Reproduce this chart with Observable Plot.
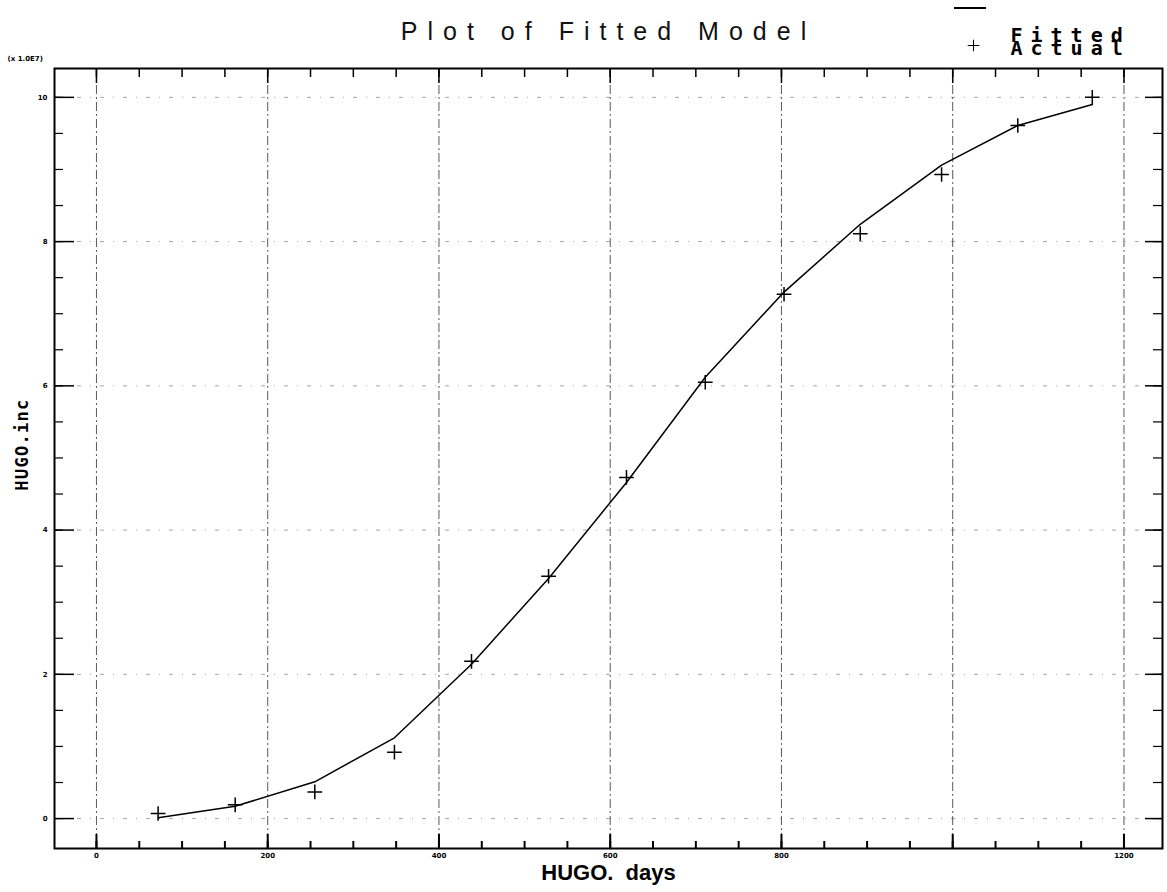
<!DOCTYPE html>
<html>
<head>
<meta charset="utf-8">
<script src="https://cdn.jsdelivr.net/npm/d3@7"></script>
<script src="https://cdn.jsdelivr.net/npm/@observablehq/plot@0.6"></script>
<style>
  html, body { margin: 0; padding: 0; background: #fff; }
  #chart svg { display: block; }
</style>
</head>
<body>
<div id="chart"></div>
<script>
// Observed and fitted HUGO.inc (units of 1.0E7) against HUGO. days
const days   = [72, 162, 255, 348, 438, 528, 619, 711, 803, 892, 987, 1076, 1163];
const actual = [0.07, 0.19, 0.37, 0.92, 2.18, 3.36, 4.73, 6.05, 7.27, 8.11, 8.93, 9.61, 10.0];
const fitted = [0.01, 0.17, 0.51, 1.12, 2.14, 3.33, 4.66, 6.12, 7.30, 8.24, 9.06, 9.61, 9.90];

// Axis ticks
const xMajor  = [0, 200, 400, 600, 800, 1000, 1200];
const xLabels = [0, 200, 400, 600, 800, 1200];
const xMinor  = d3.range(0, 1201, 50);
const yMajor  = [0, 2, 4, 6, 8, 10];
const yMinor  = d3.range(0, 10.01, 0.5);

const rows = days.map((d, i) => ({days: d, actual: actual[i], fitted: fitted[i]}));

const tiny = {fontSize: 7, fontWeight: "bold", fontFamily: "DejaVu Sans", tickFormat: d => String(d)};
const grid = {stroke: "#222", strokeWidth: 1, strokeDasharray: "9,3,2,3"};
const mono = {fontWeight: "bold", fontFamily: "DejaVu Sans Mono"};

const chart = Plot.plot({
  width: 1167,
  height: 892,
  marginLeft: 54,
  marginRight: 5,
  marginTop: 68,
  marginBottom: 44,
  style: {background: "#fff", color: "#000"},
  x: {domain: [-49, 1245]},
  y: {domain: [-0.415, 10.4]},
  marks: [
    // dash-dot grid
    Plot.ruleX(xMajor, {...grid, strokeOpacity: 0.75}),
    Plot.ruleY(yMajor, {...grid, strokeOpacity: 0.4, strokeDasharray: "4,9,1,9"}),
    // inward ticks on all four sides
    Plot.axisX(xMinor, {anchor: "bottom", tickSize: -7, text: null, label: null, strokeWidth: 2}),
    Plot.axisX(xMajor, {anchor: "bottom", tickSize: -14, text: null, label: null, strokeWidth: 2}),
    Plot.axisX(xLabels, {anchor: "bottom", tickSize: 0, tickPadding: 5, label: null, ...tiny}),
    Plot.axisX(xMinor, {anchor: "top", tickSize: -8, text: null, label: null, strokeWidth: 1.5}),
    Plot.axisX(xMajor, {anchor: "top", tickSize: -14, text: null, label: null, strokeWidth: 1.5}),
    Plot.axisY(yMinor, {anchor: "left", tickSize: -9, text: null, label: null, strokeWidth: 1.2}),
    Plot.axisY(yMajor, {anchor: "left", tickSize: -20, text: null, label: null, strokeWidth: 1.5}),
    Plot.axisY(yMajor, {anchor: "left", tickSize: 0, tickPadding: 7, label: null, ...tiny}),
    Plot.axisY(yMinor, {anchor: "right", tickSize: -10, text: null, label: null, strokeWidth: 1.2}),
    Plot.axisY(yMajor, {anchor: "right", tickSize: -18, text: null, label: null, strokeWidth: 1.5}),
    Plot.frame({stroke: "#000", strokeWidth: 2}),
    // fitted curve and observed points
    Plot.line(rows, {x: "days", y: "fitted", stroke: "#000", strokeWidth: 1.5}),
    Plot.dot(rows, {x: "days", y: "actual", symbol: "plus", r: 4.8, stroke: "#000", strokeWidth: 1.5}),
    // titles and labels
    Plot.text(["Plot of Fitted Model"], {frameAnchor: "top", dy: -46, fontSize: 25,
      fontFamily: "Liberation Sans, Arial, sans-serif", fill: "#111"}),
    Plot.text(["(x 1.0E7)"], {frameAnchor: "top-left", textAnchor: "start", dx: -47, dy: -12,
      fontSize: 7, fontWeight: "bold", fontFamily: "DejaVu Sans"}),
    Plot.text(["HUGO.inc"], {frameAnchor: "left", textAnchor: "middle", rotate: -90, dx: -32, dy: -14,
      fontSize: 17, ...mono}),
    Plot.text(["HUGO.  days"], {frameAnchor: "bottom", dy: 31, fontSize: 22, fontWeight: "bold",
      fontFamily: "Liberation Sans, Arial, sans-serif"}),
    // legend
    Plot.text(["Fitted"], {frameAnchor: "top-right", textAnchor: "start", dx: -152, dy: -41, fontSize: 20, ...mono}),
    Plot.text(["Actual"], {frameAnchor: "top-right", textAnchor: "start", dx: -152, dy: -28, fontSize: 20, ...mono}),
    Plot.dot([0], {frameAnchor: "top-right", dx: -189, dy: -23, symbol: "plus", r: 3.8,
      stroke: "#000", strokeWidth: 1})
  ]
});

// letter spacing for the title, legend and y label
const spacing = {"Plot of Fitted Model": "10px", "Fitted": "8px", "Actual": "8px", "HUGO.inc": "1.3px"};
d3.select(chart).selectAll("text")
  .filter(function() { return spacing[this.textContent] !== undefined; })
  .style("letter-spacing", function() { return spacing[this.textContent]; });

// legend swatch for the fitted line
d3.select(chart).append("line")
  .attr("x1", 954).attr("x2", 986).attr("y1", 8).attr("y2", 8)
  .attr("stroke", "#000").attr("stroke-width", 2);

document.getElementById("chart").appendChild(chart);
</script>
</body>
</html>
